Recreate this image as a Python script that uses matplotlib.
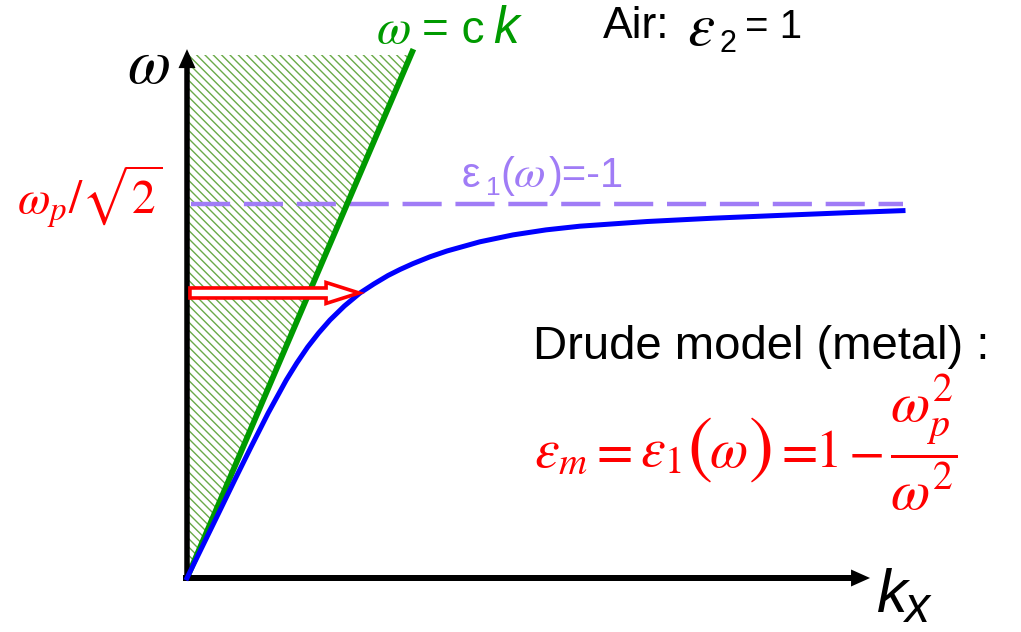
import numpy as np
import matplotlib.pyplot as plt
from matplotlib.transforms import Affine2D

plt.rcParams['hatch.linewidth'] = 1.0

W, H = 1021, 632

# Surface plasmon dispersion, k in units of wp/c and w in units of wp
light_k = [0.0, 1.0]          # light line w = ck
light_w = [0.0, 1.0]
cone_top = 0.989              # top of the shaded light cone

spp_k = [0.0, 0.0667, 0.1400, 0.2107, 0.2827, 0.3587, 0.4386, 0.4850, 0.5331,
         0.5813, 0.6316, 0.6952, 0.7641, 0.8260, 0.8878, 0.9408, 0.9982, 1.0733,
         1.1484, 1.2942, 1.4399, 1.5857, 1.7359, 2.0318, 2.3233, 2.6193, 2.9152,
         3.1625]
spp_w = [0.0, 0.0586, 0.1229, 0.1853, 0.2477, 0.3120, 0.3744, 0.4065, 0.4368,
         0.4632, 0.4878, 0.5143, 0.5389, 0.5561, 0.5719, 0.5833, 0.5944, 0.6073,
         0.6183, 0.6357, 0.6487, 0.6582, 0.6652, 0.6740, 0.6803, 0.6856, 0.6907,
         0.6946]

w_sp = 1 / np.sqrt(2)         # eps1(w) = -1  ->  w = wp/sqrt(2)
w_sp_k = [0.018, 3.163]

arrow_w = 0.5389              # horizontal arrow from the axis to the SPP curve
arrow_k = [0.013, 0.760]

green = '#009a00'
purple = '#a07cf6'
hatch_green = '#6aaa48'

# pixel scale of the drawing: origin at (187, 578)
k_px, w_px = 226.4, 528.9

fig = plt.figure(figsize=(W / 100, H / 100), dpi=100)
ax = fig.add_axes([0, 0, 1, 1])
ax.set_xlim(-187 / k_px, (W - 187) / k_px)
ax.set_ylim(-(H - 578) / w_px, 578 / w_px)
ax.axis('off')

# shaded light cone
ax.fill([0, 0, cone_top, 0], [0, cone_top, cone_top, 0], facecolor='white',
        edgecolor=hatch_green, hatch='\\\\\\\\', linewidth=0, zorder=1)

ax.plot(w_sp_k, [w_sp, w_sp], color=purple, lw=3.2, dashes=(8.8, 3.1),
        solid_capstyle='butt', zorder=2)
ax.plot(light_k, light_w, color=green, lw=4.2, solid_capstyle='butt', zorder=3)
ax.plot(spp_k, spp_w, color='blue', lw=3.6, zorder=4)

ax.arrow(arrow_k[0], arrow_w, arrow_k[1] - arrow_k[0], 0, width=10 / w_px,
         head_width=21 / w_px, head_length=33 / k_px, length_includes_head=True,
         facecolor='white', edgecolor='red', lw=2.6, zorder=5)

# axes with arrow heads
ax.arrow(-4 / k_px, 0, 3.017 + 4 / k_px, 0, width=6 / w_px, head_width=17 / w_px,
         head_length=19 / k_px, length_includes_head=True, color='black', lw=0,
         zorder=3.5)
ax.arrow(0, -3 / w_px, 0, 1.0 + 3 / w_px, width=5.5 / k_px, head_width=17 / k_px,
         head_length=19 / w_px, length_includes_head=True, color='black', lw=0,
         zorder=3.5)

# text placed in pixel coordinates from the top-left corner
pix = Affine2D().scale(1 / W, -1 / H).translate(0, 1) + fig.transFigure


def put(x, y, s, **kw):
    kw.setdefault('family', 'Liberation Sans')
    fig.text(x, y, s, transform=pix, va='baseline', **kw)


def put_math(x, y, s, size, color='red'):
    put(x, y, s, math_fontfamily='stix', size=size, color=color)


put_math(376, 43, r'$\omega$', 36, green)
put(422, 43, '= c', size=33, color=green)
put(493, 43, 'k', style='italic', size=37, color=green)

put(603, 38, 'Air:', size=32)
put_math(687, 45, r'$\varepsilon$', 44, 'black')
put(719, 52, '2', size=22)
put(745, 38, '= 1', size=29)

put(462, 187, 'ε', size=30, color=purple)
put(486, 195, '1', size=19, color=purple)
put(500, 187, '(', size=30, color=purple)
put_math(513, 187, r'$\omega$', 33, purple)
put(549, 187, ')=-1', size=30, color=purple)

put_math(127, 83, r'$\omega$', 45, 'black')
put(163, 215, r'$\omega_p/\sqrt{2}$', math_fontfamily='stix', size=34,
    color='red', ha='right')

put(877, 612, 'k', style='italic', size=44)
put(905, 622, 'x', style='italic', size=36)

# Drude permittivity
put(533, 359, 'Drude model (metal) :', size=34)
put_math(534, 467, r'$\varepsilon_m$', 40)
put_math(589, 467, r'$=$', 38)
put_math(640, 467, r'$\varepsilon_1$', 40)
put_math(687, 469, r'$($', 54)
put_math(709, 467, r'$\omega$', 40)
put_math(748, 469, r'$)$', 54)
put_math(774, 467, r'$=$', 38)
put_math(815, 467, r'$1$', 38)
put_math(848, 467, r'$-$', 38)
put_math(890, 467, r'$\dfrac{\omega_p^2}{\omega^2}$', 41)

fig.savefig('out.png', dpi=100)
